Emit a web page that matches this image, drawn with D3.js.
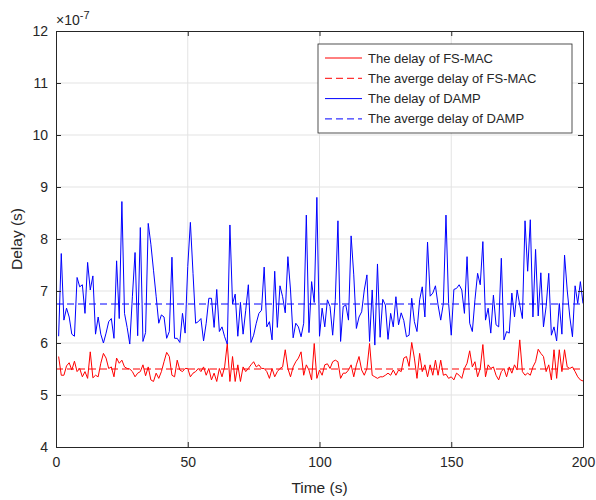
<!DOCTYPE html>
<html>
<head>
<meta charset="utf-8">
<script src="https://cdn.jsdelivr.net/npm/d3@7"></script>
<style>
  body { margin: 0; background: #fff; }
  text { font-family: "Liberation Sans", Arial, sans-serif; fill: #262626; }
</style>
</head>
<body>
<div id="my_dataviz"></div>
<script>

// delay values, in units of 1e-7 s, one per second (t = 1..200)
var fsmacDelay = [
  5.74, 5.38, 5.38, 5.56, 5.62, 5.48, 5.65, 5.45, 5.51, 5.35,
  5.45, 5.32, 5.83, 5.33, 5.38, 5.35, 5.61, 5.80, 5.71, 5.51,
  5.54, 5.35, 5.71, 5.61, 5.67, 5.54, 5.51, 5.50, 5.45, 5.35,
  5.42, 5.45, 5.58, 5.37, 5.54, 5.29, 5.26, 5.42, 5.32, 5.45,
  5.64, 5.82, 5.74, 5.38, 5.35, 5.67, 5.48, 5.45, 5.51, 5.51,
  5.35, 5.42, 5.45, 5.51, 5.45, 5.54, 5.38, 5.51, 5.29, 5.42,
  5.26, 5.51, 5.35, 5.54, 5.99, 5.26, 5.74, 5.26, 5.58, 5.26,
  5.54, 5.45, 5.51, 5.58, 5.64, 5.54, 5.58, 5.51, 5.51, 5.45,
  5.32, 5.51, 5.35, 5.45, 5.51, 5.54, 5.87, 5.51, 5.35, 5.54,
  5.64, 5.71, 5.83, 5.38, 5.58, 5.48, 5.29, 5.99, 5.32, 5.48,
  5.38, 5.58, 5.60, 5.51, 5.64, 5.67, 5.64, 5.32, 5.42, 5.42,
  5.48, 5.58, 5.35, 5.58, 5.74, 5.48, 5.38, 5.51, 5.99, 5.38,
  5.35, 5.32, 5.35, 5.35, 5.38, 5.42, 5.38, 5.48, 5.38, 5.48,
  5.45, 5.71, 5.74, 5.55, 6.01, 5.71, 5.32, 5.80, 5.45, 5.58,
  5.35, 5.58, 5.38, 5.67, 5.38, 5.67, 5.38, 5.40, 5.32, 5.35,
  5.29, 5.42, 5.38, 5.32, 5.51, 5.61, 5.85, 5.54, 5.64, 5.35,
  5.51, 5.97, 5.35, 5.58, 5.51, 5.54, 5.38, 5.29, 5.45, 5.51,
  5.35, 5.54, 5.42, 5.58, 5.48, 6.06, 5.45, 5.38, 5.42, 5.38,
  5.54, 5.64, 5.88, 5.80, 5.74, 5.45, 5.58, 5.29, 5.87, 5.32,
  5.87, 5.45, 5.87, 5.54, 5.51, 5.54, 5.45, 5.35, 5.29, 5.27
];

var dampDelay = [
  6.13, 7.72, 6.44, 6.67, 6.50, 6.17, 6.13, 7.26, 7.08, 7.12,
  6.57, 7.55, 7.02, 7.29, 6.17, 6.50, 6.17, 6.00, 6.19, 6.41,
  6.47, 6.09, 7.58, 6.47, 8.72, 6.57, 6.30, 5.98, 6.90, 7.74,
  6.14, 8.22, 6.03, 6.20, 8.30, 7.90, 7.40, 6.90, 6.38, 6.54,
  6.50, 6.09, 6.22, 7.65, 6.09, 6.09, 6.01, 6.57, 6.19, 7.47,
  8.32, 7.34, 6.38, 6.41, 6.47, 6.04, 6.38, 6.86, 6.86, 6.30,
  7.03, 6.22, 6.31, 6.12, 5.98, 8.27, 6.75, 6.94, 6.13, 6.78,
  6.17, 6.63, 7.12, 6.01, 6.15, 6.38, 6.57, 6.63, 7.46, 6.31,
  6.41, 6.06, 7.38, 6.30, 7.10, 6.89, 6.58, 7.66, 7.02, 6.10,
  6.38, 6.31, 6.12, 6.38, 8.46, 6.20, 7.18, 6.78, 8.80, 6.13,
  6.67, 6.31, 6.83, 6.70, 6.15, 6.83, 8.35, 6.03, 6.70, 6.73,
  6.44, 8.06, 7.31, 6.28, 6.50, 6.60, 7.02, 7.31, 6.03, 7.02,
  5.96, 7.52, 6.11, 6.84, 6.73, 6.07, 6.57, 6.31, 6.89, 6.35,
  6.58, 6.43, 6.12, 6.15, 6.86, 6.41, 6.22, 6.83, 7.08, 6.50,
  7.94, 6.90, 6.96, 7.10, 6.73, 6.44, 6.76, 8.46, 6.76, 6.15,
  7.03, 7.05, 7.12, 7.02, 6.57, 7.66, 6.38, 6.22, 6.83, 7.34,
  7.12, 7.95, 6.44, 6.67, 6.19, 6.92, 6.35, 6.31, 7.63, 6.06,
  6.22, 6.19, 6.96, 6.50, 7.02, 6.73, 6.47, 8.35, 7.38, 8.37,
  6.50, 7.80, 6.52, 7.35, 6.31, 6.70, 7.34, 6.15, 6.31, 6.04,
  6.76, 6.17, 7.69, 7.02, 6.50, 6.12, 7.10, 6.76, 7.18, 6.76
];

// average delays (1e-7 s)
var fsmacAvg = 5.5;
var dampAvg = 6.75;

var xTicks = [0, 50, 100, 150, 200];
var yTicks = [4, 5, 6, 7, 8, 9, 10, 11, 12];

var legendLabels = [
  "The delay of FS-MAC",
  "The averge delay of FS-MAC",
  "The delay of DAMP",
  "The averge delay of DAMP"
];

// set the dimensions and margins of the graph
var margin = {top: 31, right: 13, bottom: 53, left: 56},
    width = 596 - margin.left - margin.right,
    height = 500 - margin.top - margin.bottom;

var root = d3.select("#my_dataviz")
  .append("svg")
    .attr("width", 596)
    .attr("height", 500);

var svg = root.append("g")
    .attr("transform", "translate(" + margin.left + "," + margin.top + ")");

var x = d3.scaleLinear().domain([0, 200]).range([0, width]);
var y = d3.scaleLinear().domain([4, 12]).range([height, 0]);

// grid
svg.append("g")
  .selectAll("line.vg")
  .data(xTicks.slice(1, -1))
  .enter().append("line")
    .attr("x1", function(d) { return x(d); })
    .attr("x2", function(d) { return x(d); })
    .attr("y1", 0).attr("y2", height)
    .attr("stroke", "#e3e3e3").attr("stroke-width", 1);
svg.append("g")
  .selectAll("line.hg")
  .data(yTicks.slice(1, -1))
  .enter().append("line")
    .attr("y1", function(d) { return y(d); })
    .attr("y2", function(d) { return y(d); })
    .attr("x1", 0).attr("x2", width)
    .attr("stroke", "#e3e3e3").attr("stroke-width", 1);

// data lines
var days = d3.range(1, 201);
var line = d3.line()
  .x(function(d, i) { return x(days[i]); })
  .y(function(d) { return y(d); });

svg.append("path")
  .datum(fsmacDelay)
  .attr("d", line)
  .attr("fill", "none")
  .attr("stroke", "#ff0000")
  .attr("stroke-width", 1);

svg.append("path")
  .datum(dampDelay)
  .attr("d", line)
  .attr("fill", "none")
  .attr("stroke", "#0000ff")
  .attr("stroke-width", 1);

// average lines
svg.append("line")
  .attr("x1", x(0)).attr("x2", x(200))
  .attr("y1", y(fsmacAvg)).attr("y2", y(fsmacAvg))
  .attr("stroke", "#ff0000").attr("stroke-dasharray", "7,4");

svg.append("line")
  .attr("x1", x(0)).attr("x2", x(200))
  .attr("y1", y(dampAvg)).attr("y2", y(dampAvg))
  .attr("stroke", "#0000ff").attr("stroke-dasharray", "7,4");

// axes, matlab style: inward ticks on all sides
function styleAxis(g) {
  g.select(".domain").attr("stroke", "#262626");
  g.selectAll(".tick line").attr("stroke", "#262626");
  g.selectAll(".tick text")
    .attr("font-size", "14px")
    .attr("font-family", "Liberation Sans, Arial, sans-serif")
    .attr("fill", "#262626");
}

svg.append("g")
  .attr("transform", "translate(0," + height + ")")
  .call(d3.axisBottom(x).tickValues(xTicks).tickSizeInner(-5).tickSizeOuter(0).tickPadding(10))
  .call(styleAxis);

svg.append("g")
  .call(d3.axisTop(x).tickValues(xTicks).tickSizeInner(-5).tickSizeOuter(0).tickFormat(""))
  .call(styleAxis);

svg.append("g")
  .call(d3.axisLeft(y).tickValues(yTicks).tickSizeInner(-5).tickSizeOuter(0).tickPadding(8))
  .call(styleAxis);

svg.append("g")
  .attr("transform", "translate(" + width + ",0)")
  .call(d3.axisRight(y).tickValues(yTicks).tickSizeInner(-5).tickSizeOuter(0).tickFormat(""))
  .call(styleAxis);

// exponent label
var expo = svg.append("text")
  .attr("x", 0)
  .attr("y", -6)
  .attr("font-size", "14px");
expo.append("tspan").text("\u00d710");
expo.append("tspan").attr("dy", -6).attr("font-size", "11px").text("-7");

// axis labels
svg.append("text")
  .attr("x", width / 2)
  .attr("y", height + 46)
  .attr("text-anchor", "middle")
  .attr("font-size", "15.5px")
  .text("Time (s)");

svg.append("text")
  .attr("transform", "translate(" + (-34) + "," + (height / 2) + ") rotate(-90)")
  .attr("text-anchor", "middle")
  .attr("font-size", "15.5px")
  .text("Delay (s)");

// legend
var legendColors = ["#ff0000", "#ff0000", "#0000ff", "#0000ff"];
var legendDash = [null, "7,4", null, "7,4"];

var legend = root.append("g")
  .attr("transform", "translate(318,44)");

legend.append("rect")
  .attr("width", 254)
  .attr("height", 89)
  .attr("fill", "#fff")
  .attr("stroke", "#262626")
  .attr("stroke-width", 0.8);

var items = legend.selectAll("g.item")
  .data(legendLabels)
  .enter().append("g")
    .attr("transform", function(d, i) { return "translate(0," + (14 + i * 20.3) + ")"; });

items.append("line")
  .attr("x1", 7).attr("x2", 44)
  .attr("stroke", function(d, i) { return legendColors[i]; })
  .attr("stroke-dasharray", function(d, i) { return legendDash[i]; });

items.append("text")
  .attr("x", 50)
  .attr("dy", "0.35em")
  .attr("font-size", "13px")
  .text(function(d) { return d; });

</script>
</body>
</html>
